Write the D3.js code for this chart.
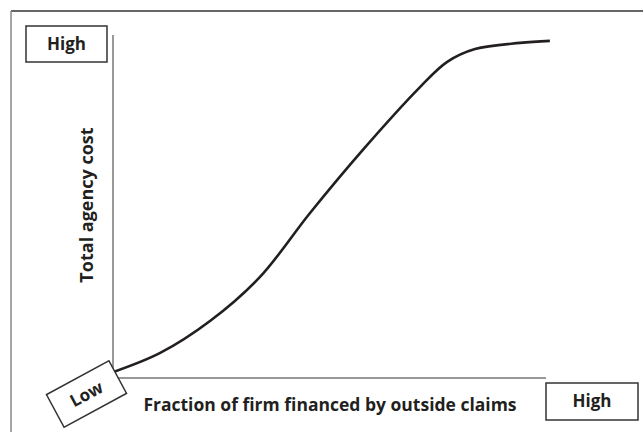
<!DOCTYPE html>
<html>
<head>
<meta charset="utf-8">
<title>Total agency cost vs fraction financed by outside claims</title>
<script src="https://d3js.org/d3.v7.min.js"></script>
<style>
  body { margin: 0; background: #fff; }
  text { font-family: "Open Sans", Lato, sans-serif; font-weight: bold; fill: #231f20; }
</style>
</head>
<body>
<div id="chart"></div>
<script>
// curve (x: share financed outside, y: agency cost, both 0-100)
const fraction = [0, 10.9, 22.4, 33.9, 45.5, 57.7, 70.9, 77.1, 83.6, 94.0, 100.9];
const agencyCost = [1.7, 7.3, 16.6, 29.4, 48.1, 66.5, 84.8, 92.1, 95.9, 97.7, 98.3];
const xTitle = "Fraction of firm financed by outside claims";
const yTitle = "Total agency cost";
const lowLabel = "Low";
const highLabel = "High";

const W = 643, H = 432;
const svg = d3.select("#chart").append("svg")
  .attr("width", W).attr("height", H);

// outer frame (only top and left edges are visible)
svg.append("line").attr("x1", 11).attr("y1", 11).attr("x2", W).attr("y2", 11)
  .attr("stroke", "#333").attr("stroke-width", 1.5);
svg.append("line").attr("x1", 11).attr("y1", 11).attr("x2", 11).attr("y2", H)
  .attr("stroke", "#888").attr("stroke-width", 1.5);

const x = d3.scaleLinear().domain([0, 100]).range([113, 546]);
const y = d3.scaleLinear().domain([0, 100]).range([378, 35]);

// axes as plain lines
svg.append("line").attr("x1", x(0)).attr("x2", x(0)).attr("y1", y(0)).attr("y2", y(100))
  .attr("stroke", "#777").attr("stroke-width", 1.5);
svg.append("line").attr("x1", x(0)).attr("x2", x(100)).attr("y1", y(0)).attr("y2", y(0))
  .attr("stroke", "#333").attr("stroke-width", 1.2);

const pts = fraction.map((d, i) => [d, agencyCost[i]]);
svg.append("path")
  .datum(pts)
  .attr("fill", "none")
  .attr("stroke", "#231f20")
  .attr("stroke-width", 2.6)
  .attr("d", d3.line().x(d => x(d[0])).y(d => y(d[1])).curve(d3.curveCatmullRom));

// axis titles
svg.append("text")
  .attr("x", 330).attr("y", 411)
  .attr("text-anchor", "middle")
  .style("font-size", "17.5px")
  .text(xTitle);

svg.append("text")
  .attr("transform", "translate(93,205) rotate(-90)")
  .attr("text-anchor", "middle")
  .style("font-size", "18px")
  .text(yTitle);

// label boxes
function box(cx, cy, w, h, angle, label) {
  const g = svg.append("g").attr("transform", `translate(${cx},${cy}) rotate(${angle})`);
  g.append("rect")
    .attr("x", -w / 2).attr("y", -h / 2).attr("width", w).attr("height", h)
    .attr("fill", "#fff").attr("stroke", "#333").attr("stroke-width", 1.5);
  g.append("text")
    .attr("text-anchor", "middle").attr("dy", "0.35em")
    .style("font-size", "17px")
    .text(label);
}
box(66.5, 44, 81, 36, 0, highLabel);
box(592, 401.5, 92, 37, 0, highLabel);
box(86.5, 394, 71, 37, -28.4, lowLabel);
</script>
</body>
</html>
